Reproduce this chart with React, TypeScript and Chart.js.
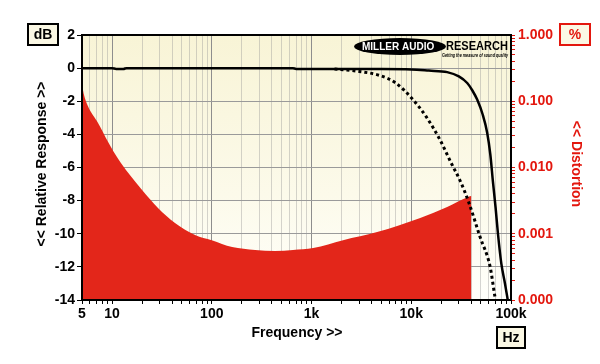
import React, { useEffect, useRef } from 'react';
import { Chart, registerables } from 'chart.js';

Chart.register(...registerables);

const FONT = '"Liberation Sans", Arial, Helvetica, sans-serif';
const RED = '#e3170e';
const FILL_RED = '#e3261a';

// Frequency response, solid trace (Hz, dB)
const responseFreq = [5, 10, 11, 13, 14, 100, 650, 700, 5000, 10000, 15000, 22900, 30000, 36400, 41000, 45800, 52000, 57700, 62000, 66000, 70000, 74000, 80000, 87000, 94000];
const responseDb = [0, 0, -0.05, -0.05, 0, 0, 0, -0.05, -0.06, -0.08, -0.15, -0.24, -0.5, -0.9, -1.35, -1.9, -2.8, -3.9, -5.2, -6.9, -8.4, -10, -11.8, -13, -14.2];

// Frequency response, dotted trace (Hz, dB)
const dottedFreq = [1700, 2070, 3000, 4870, 7000, 10400, 14000, 19500, 25000, 30900, 37200, 49000, 61800, 69000, 71000];
const dottedDb = [-0.06, -0.1, -0.2, -0.45, -0.9, -1.9, -2.9, -4.35, -5.7, -6.8, -8, -10.2, -12, -13.8, -14.2];

// Distortion (Hz, %)
const distFreq = [5, 5.2, 5.74, 7.24, 9.11, 11.5, 14.5, 20, 28.9, 42.8, 68, 100, 160, 272, 431, 653, 1040, 2070, 4550, 12300, 22900, 37200, 40000, 40100];
const distPct = [0.18, 0.13, 0.084, 0.047, 0.0245, 0.0135, 0.0083, 0.00457, 0.00245, 0.00145, 0.00096, 0.0008, 0.00063, 0.00057, 0.00055, 0.00057, 0.00061, 0.0008, 0.00106, 0.00173, 0.00253, 0.00359, 0.0037, 0.0001];

// Axis tick labels
const xLabelValues = [5, 10, 100, 1000, 10000, 100000];
const xLabelTexts = ['5', '10', '100', '1k', '10k', '100k'];
const dbMin = -14;
const dbMax = 2;
const dbStep = 2;
const pctLabelValues = [1, 0.1, 0.01, 0.001, 0.0001];
const pctLabelTexts = ['1.000', '0.100', '0.010', '0.001', '0.000'];

const isDecade = (v: number) => Math.abs(Math.log10(v) - Math.round(Math.log10(v))) < 1e-9;

function logTicks(min: number, max: number) {
  const out: { value: number }[] = [];
  let d = Math.pow(10, Math.floor(Math.log10(min)));
  while (d <= max) {
    for (let m = 1; m <= 9; m++) {
      const v = +(m * d).toPrecision(6);
      if (v >= min - 1e-12 && v <= max + 1e-12) out.push({ value: v });
    }
    d *= 10;
  }
  return out;
}

const decorPlugin = {
  id: 'decor',
  beforeDraw(chart: any) {
    const { ctx, chartArea: a } = chart;
    ctx.save();
    ctx.fillStyle = '#ffffff';
    ctx.fillRect(0, 0, chart.width, chart.height);
    const g = ctx.createLinearGradient(0, a.top, 0, a.bottom);
    g.addColorStop(0, '#f8f4d6');
    g.addColorStop(0.6, '#fcfaea');
    g.addColorStop(1, '#fffffb');
    ctx.fillStyle = g;
    ctx.fillRect(a.left, a.top, a.right - a.left, a.bottom - a.top);
    ctx.restore();
  },
  afterDraw(chart: any) {
    const { ctx, chartArea: a } = chart;
    ctx.save();
    // plot border
    ctx.strokeStyle = '#000';
    ctx.lineWidth = 2;
    ctx.strokeRect(a.left, a.top, a.right - a.left, a.bottom - a.top);

    // logo
    ctx.fillStyle = '#000';
    ctx.beginPath();
    ctx.ellipse(400, 46.5, 46, 8.5, 0, 0, Math.PI * 2);
    ctx.fill();
    ctx.textBaseline = 'middle';
    ctx.textAlign = 'left';
    ctx.fillStyle = '#fff';
    ctx.font = `bold 10px ${FONT}`;
    ctx.fillText('MILLER AUDIO', 362, 47, 76);
    ctx.fillStyle = '#000';
    ctx.font = `bold 12px ${FONT}`;
    ctx.fillText('RESEARCH', 446, 46.5, 62);
    ctx.font = `italic bold 6px ${FONT}`;
    ctx.fillText('Getting the measure of sound quality', 442, 55, 66);

    // boxes
    const box = (x: number, y: number, w: number, h: number, txt: string, col: string) => {
      ctx.fillStyle = '#fbf8e4';
      ctx.fillRect(x, y, w, h);
      ctx.strokeStyle = col;
      ctx.lineWidth = 2;
      ctx.strokeRect(x, y, w, h);
      ctx.fillStyle = col;
      ctx.font = `bold 14px ${FONT}`;
      ctx.textAlign = 'center';
      ctx.textBaseline = 'middle';
      ctx.fillText(txt, x + w / 2, y + h / 2 + 1);
    };
    box(28, 24, 30, 21, 'dB', '#000');
    box(560, 24, 30, 21, '%', RED);
    box(497, 327, 28, 21, 'Hz', '#000');

    // axis titles
    ctx.font = `bold 14px ${FONT}`;
    ctx.textAlign = 'center';
    ctx.textBaseline = 'middle';
    ctx.fillStyle = '#000';
    ctx.fillText('Frequency >>', 297, 333);

    ctx.save();
    ctx.translate(42, 164);
    ctx.rotate(-Math.PI / 2);
    ctx.fillText('<< Relative Response >>', 0, 0);
    ctx.restore();

    ctx.save();
    ctx.translate(576, 164);
    ctx.rotate(Math.PI / 2);
    ctx.fillStyle = RED;
    ctx.fillText('<< Distortion', 0, 0);
    ctx.restore();

    ctx.restore();
  },
};

export default function App() {
  const ref = useRef<HTMLCanvasElement>(null);

  useEffect(() => {
    document.body.style.margin = '0';
    const canvas = ref.current!;
    const chart = new Chart(canvas, {
      type: 'line',
      data: {
        datasets: [
          {
            label: 'Response',
            data: responseFreq.map((f, i) => ({ x: f, y: responseDb[i] })),
            yAxisID: 'y',
            borderColor: '#000',
            borderWidth: 2.5,
            pointRadius: 0,
            cubicInterpolationMode: 'monotone',
            fill: false,
          },
          {
            label: 'Response 2',
            data: dottedFreq.map((f, i) => ({ x: f, y: dottedDb[i] })),
            yAxisID: 'y',
            borderColor: '#000',
            borderWidth: 3,
            borderDash: [3, 3],
            borderCapStyle: 'butt',
            pointRadius: 0,
            cubicInterpolationMode: 'monotone',
            fill: false,
          },
          {
            label: 'Distortion',
            data: distFreq.map((f, i) => ({ x: f, y: distPct[i] })),
            yAxisID: 'y2',
            borderColor: FILL_RED,
            borderWidth: 0,
            backgroundColor: FILL_RED,
            pointRadius: 0,
            cubicInterpolationMode: 'monotone',
            fill: 'start',
          },
        ],
      },
      options: {
        animation: false,
        responsive: false,
        devicePixelRatio: 1,
        layout: { padding: { top: 35, left: 0, right: 0, bottom: 0 } },
        plugins: { legend: { display: false }, tooltip: { enabled: false } },
        scales: {
          x: {
            type: 'logarithmic',
            position: 'bottom',
            min: 5,
            max: 100000,
            afterBuildTicks: (s: any) => { s.ticks = logTicks(5, 100000); },
            afterFit: (s: any) => { s.height = 64; },
            border: { display: false },
            grid: {
              color: (c: any) => (c.tick && isDecade(c.tick.value) ? '#8e8e8e' : 'rgba(150,150,150,0.4)'),
              tickColor: '#000',
              tickLength: 4,
              lineWidth: 1,
            },
            ticks: {
              autoSkip: false,
              maxRotation: 0,
              minRotation: 0,
              padding: 2,
              color: '#000',
              font: { family: FONT, size: 14, weight: 'bold' },
              callback: (v: any) => {
                const i = xLabelValues.findIndex((x) => Math.abs(x - Number(v)) < 1e-6);
                return i >= 0 ? xLabelTexts[i] : '';
              },
            },
          },
          y: {
            type: 'linear',
            position: 'left',
            min: dbMin,
            max: dbMax,
            afterFit: (s: any) => { s.width = 82; },
            border: { display: false },
            grid: { color: '#9a9a9a', tickColor: '#000', tickLength: 5, lineWidth: 1 },
            ticks: {
              stepSize: dbStep,
              padding: 2,
              color: '#000',
              font: { family: FONT, size: 14, weight: 'bold' },
            },
          },
          y2: {
            type: 'logarithmic',
            position: 'right',
            min: 0.0001,
            max: 1,
            afterBuildTicks: (s: any) => { s.ticks = logTicks(0.0001, 1); },
            afterFit: (s: any) => { s.width = 89; },
            border: { display: false },
            grid: { drawOnChartArea: false, color: RED, tickColor: RED, tickLength: 4 },
            ticks: {
              autoSkip: false,
              padding: 3,
              color: RED,
              font: { family: FONT, size: 14, weight: 'bold' },
              callback: (v: any) => {
                const i = pctLabelValues.findIndex((x) => Math.abs(Math.log10(x) - Math.log10(Number(v))) < 1e-6);
                return i >= 0 ? pctLabelTexts[i] : '';
              },
            },
          },
        },
      } as any,
      plugins: [decorPlugin],
    });
    return () => chart.destroy();
  }, []);

  return (
    <div style={{ position: 'fixed', left: 0, top: 0, width: 600, height: 364, background: '#fff' }}>
      <canvas ref={ref} width={600} height={364} style={{ display: 'block' }} />
    </div>
  );
}
